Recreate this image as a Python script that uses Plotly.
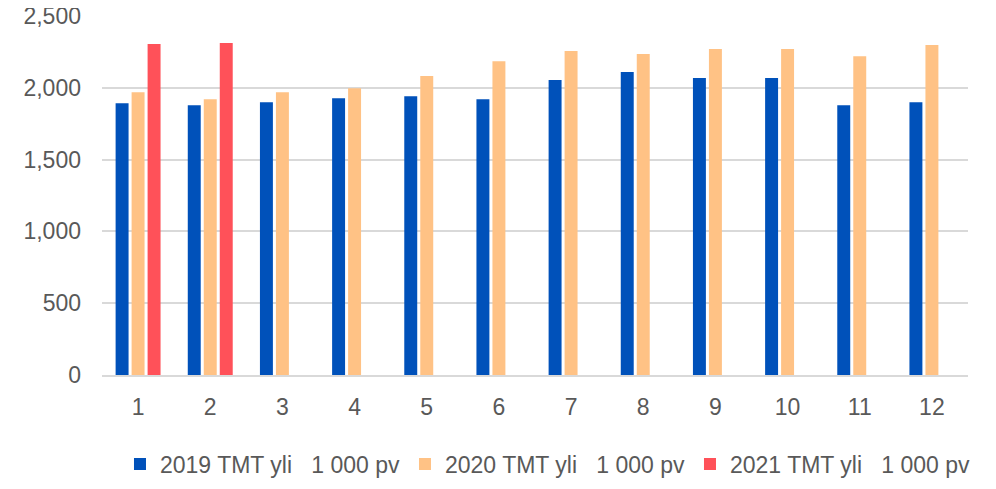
import plotly.graph_objects as go

months = [str(m) for m in range(1, 13)]
s2019 = [1893, 1879, 1900, 1928, 1942, 1921, 2054, 2110, 2068, 2068, 1879, 1900]
s2020 = [1970, 1921, 1970, 1998, 2082, 2186, 2256, 2235, 2270, 2270, 2221, 2298]
s2021 = [2305, 2312]
names = ["2019 TMT yli\u00a0\u00a0\u00a01\u00a0000 pv",
         "2020 TMT yli\u00a0\u00a0\u00a01\u00a0000 pv",
         "2021 TMT yli\u00a0\u00a0\u00a01\u00a0000 pv"]
colors = ["#0051BA", "#FFC285", "#FF5159"]
yticks = [0, 500, 1000, 1500, 2000, 2500]

fig = go.Figure()
for name, vals, col in zip(names, [s2019, s2020, s2021], colors):
    fig.add_trace(go.Bar(x=months[:len(vals)], y=vals, name=name,
                         marker=dict(color=col, line=dict(width=0))))

fig.update_layout(
    width=980, height=473,
    margin=dict(l=94, r=20, t=8, b=106, autoexpand=False),
    paper_bgcolor="white", plot_bgcolor="white",
    barmode="group", bargap=0.335, bargroupgap=0.19,
    font=dict(family="Liberation Sans, Arial, sans-serif", color="#595959", size=22),
    legend=dict(orientation="h", x=0.515, xanchor="center",
                y=-0.188, yanchor="top",
                font=dict(size=23, color="#595959"), itemwidth=30,
                traceorder="normal"),
    showlegend=True,
)
fig.update_xaxes(type="category", categoryorder="array", categoryarray=months,
                 showline=True, linecolor="#d9d9d9", linewidth=2,
                 showgrid=False, ticks="", ticklabelstandoff=10,
                 tickfont=dict(size=23, color="#595959"))
fig.update_yaxes(range=[0, 2500.5], tickvals=yticks, tickformat=",",
                 showgrid=True, gridcolor="#d9d9d9", gridwidth=1.5,
                 zeroline=False, showline=False, ticks="",
                 ticklabelstandoff=20, ticklabeloverflow="allow",
                 tickfont=dict(size=23, color="#595959"))

fig.write_html("out.html")
